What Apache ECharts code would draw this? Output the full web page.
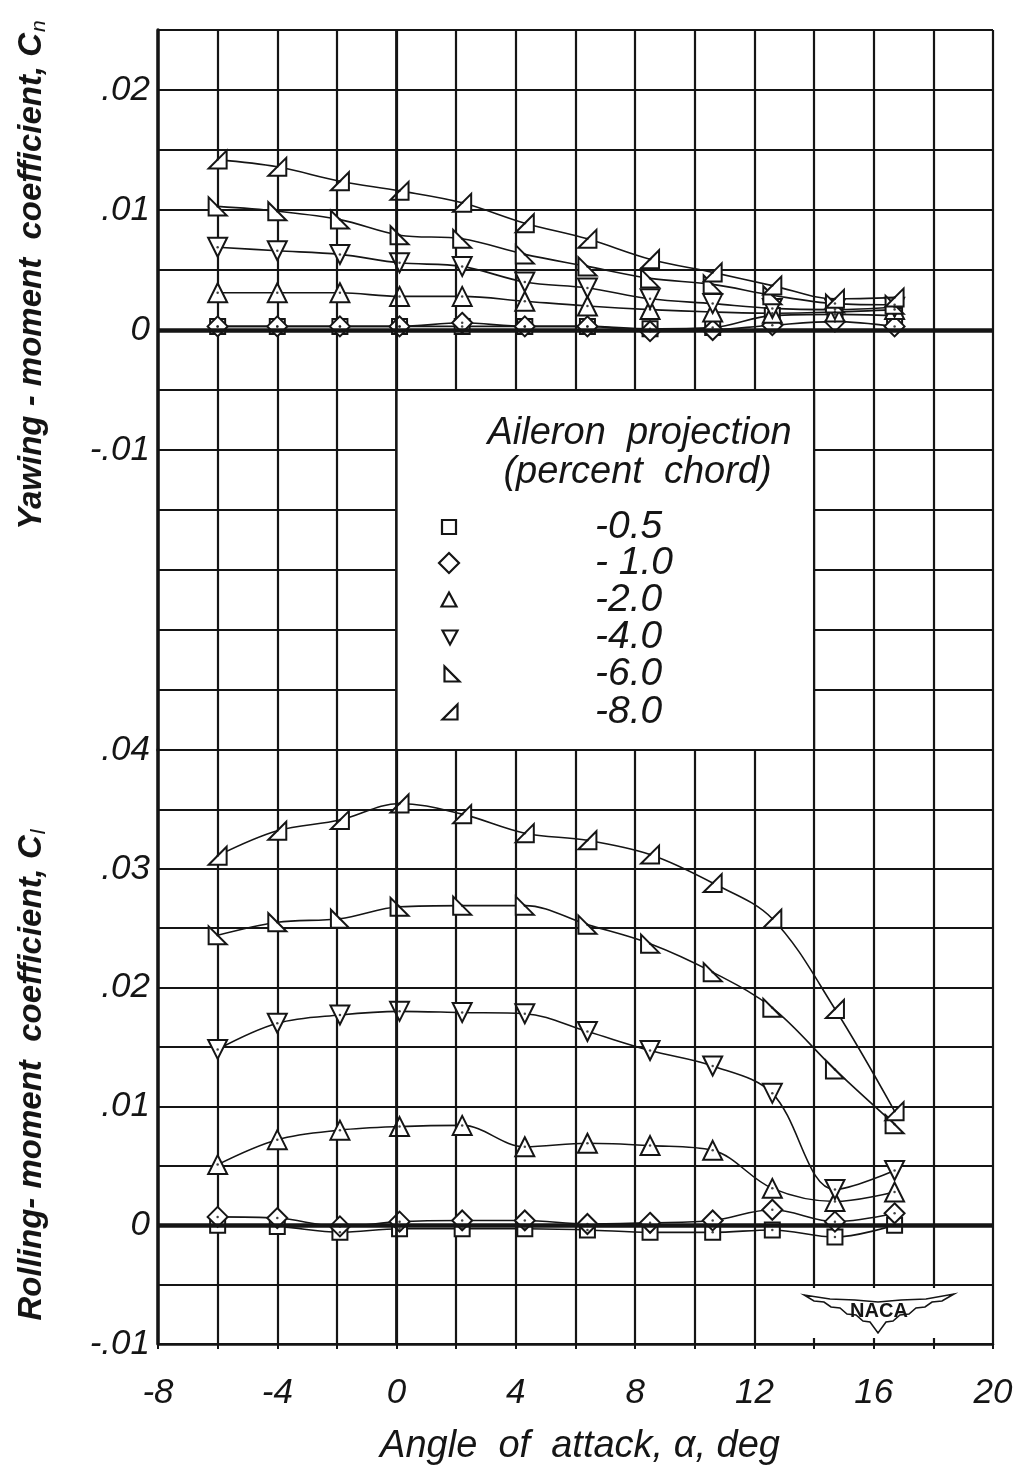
<!DOCTYPE html>
<html>
<head>
<meta charset="utf-8">
<script src="https://cdn.jsdelivr.net/npm/echarts/dist/echarts.min.js"></script>
<style>
html,body{margin:0;padding:0;background:#ffffff;}
#c{width:1024px;height:1478px;}
</style>
</head>
<body>
<div id="c"></div>
<script>
// ---------------- data ----------------
const alpha = [-6, -4, -1.9, 0.1, 2.2, 4.3, 6.4, 8.5, 10.6, 12.6, 14.7, 16.7];
const seriesNames = ['-0.5', '-1.0', '-2.0', '-4.0', '-6.0', '-8.0'];
const legendLabels = ['-0.5', '- 1.0', '-2.0', '-4.0', '-6.0', '-8.0'];

// Yawing-moment coefficient, Cn
const cn_m05 = [0.0003, 0.0003, 0.0003, 0.0003, 0.0003, 0.0003, 0.0003, 0.0001, 0.0002, 0.0012, 0.0013, 0.0012];
const cn_m10 = [0.0003, 0.0003, 0.0003, 0.0003, 0.0006, 0.0003, 0.0003, -0.0001, 0.0000, 0.0004, 0.0007, 0.0003];
const cn_m20 = [0.0031, 0.0031, 0.0031, 0.0028, 0.0028, 0.0024, 0.0020, 0.0017, 0.0015, 0.0014, 0.0015, 0.0017];
const cn_m40 = [0.0069, 0.0066, 0.0063, 0.0056, 0.0053, 0.0040, 0.0035, 0.0026, 0.0022, 0.0018, 0.0017, 0.0019];
const cn_m60 = [0.0103, 0.0099, 0.0092, 0.0079, 0.0076, 0.0063, 0.0053, 0.0043, 0.0038, 0.0029, 0.0022, 0.0021];
const cn_m80 = [0.0142, 0.0136, 0.0124, 0.0116, 0.0106, 0.0089, 0.0076, 0.0059, 0.0048, 0.0037, 0.0026, 0.0027];

// Rolling-moment coefficient, Cl
const cl_m05 = [0.0000, -0.0001, -0.0006, -0.0003, -0.0003, -0.0003, -0.0004, -0.0006, -0.0006, -0.0004, -0.0010, 0.0000];
const cl_m10 = [0.0007, 0.0006, -0.0001, 0.0003, 0.0004, 0.0004, 0.0001, 0.0002, 0.0004, 0.0013, 0.0003, 0.0010];
const cl_m20 = [0.0051, 0.0072, 0.0080, 0.0083, 0.0084, 0.0066, 0.0069, 0.0067, 0.0063, 0.0031, 0.0020, 0.0028];
const cl_m40 = [0.0148, 0.0170, 0.0177, 0.0180, 0.0179, 0.0178, 0.0163, 0.0147, 0.0134, 0.0111, 0.0030, 0.0046];
const cl_m60 = [0.0244, 0.0255, 0.0258, 0.0268, 0.0269, 0.0269, 0.0253, 0.0237, 0.0213, 0.0183, 0.0131, 0.0085];
const cl_m80 = [0.0311, 0.0332, 0.0341, 0.0355, 0.0346, 0.0330, 0.0324, 0.0312, 0.0288, 0.0258, 0.0182, 0.0096];

// tick labels
const xTickValues = [-8, -4, 0, 4, 8, 12, 16, 20];
const xTickLabels = ['-8', '-4', '0', '4', '8', '12', '16', '20'];
const cnTickValues = [0.02, 0.01, 0, -0.01];
const cnTickLabels = ['.02', '.01', '0', '-.01'];
const clTickValues = [0.04, 0.03, 0.02, 0.01, 0, -0.01];
const clTickLabels = ['.04', '.03', '.02', '.01', '0', '-.01'];

const xTitle = 'Angle  of  attack, \u03b1, deg';
const cnTitle = 'Yawing - moment  coefficient, C{s|n}';
const clTitle = 'Rolling- moment  coefficient, C{s|l}';
const legendTitle1 = 'Aileron  projection';
const legendTitle2 = '(percent  chord)';

// ---------------- styling ----------------
const INK = '#151515';
const FONT = '"Liberation Sans", Arial, sans-serif';
const symbols = ['rect', 'diamond', 'triangle', 'triangle', 'path://M0,0L0,10L10,10Z', 'path://M10,0L10,10L0,10Z'];
const symbolRot = [0, 0, 0, 180, 0, 0];
const symbolSizes = [15, 20, 19, 19, 18, 18];

function pick(values, labels) {
  return function (v) {
    const k = Math.round(v * 10000);
    const i = values.findIndex(t => Math.round(t * 10000) === k);
    return i >= 0 ? labels[i] : '';
  };
}

const chart = echarts.init(document.getElementById('c'), null, { renderer: 'canvas', width: 1024, height: 1478 });

const splitStyle = { show: true, lineStyle: { color: INK, width: 2.2 } };
const labelStyle = { fontSize: 35, fontStyle: 'italic', fontFamily: FONT, color: INK };

const xAxes = [
  { gridIndex: 0, type: 'value', min: -8, max: 20, interval: 2,
    axisLine: { show: false, onZero: false }, axisTick: { show: false }, axisLabel: { show: false },
    splitLine: splitStyle },
  { gridIndex: 1, type: 'value', min: -8, max: 20, interval: 2,
    axisLine: { show: true, onZero: false, lineStyle: { color: INK, width: 2.5 } },
    axisTick: { show: true, length: 5, lineStyle: { color: INK, width: 2 } },
    axisLabel: Object.assign({ show: true, margin: 32, showMinLabel: true, showMaxLabel: true,
      formatter: pick(xTickValues, xTickLabels) }, labelStyle),
    splitLine: splitStyle }
];
const yAxes = [
  { gridIndex: 0, type: 'value', min: -0.035, max: 0.025, interval: 0.005,
    axisLine: { show: true, onZero: false, lineStyle: { color: INK, width: 3.5 } }, axisTick: { show: false },
    axisLabel: Object.assign({ margin: 8, showMinLabel: true, showMaxLabel: true, formatter: pick(cnTickValues, cnTickLabels) }, labelStyle),
    splitLine: splitStyle },
  { gridIndex: 1, type: 'value', min: -0.01, max: 0.04, interval: 0.005,
    axisLine: { show: true, onZero: false, lineStyle: { color: INK, width: 3.5 } }, axisTick: { show: false },
    axisLabel: Object.assign({ margin: 8, showMinLabel: true, showMaxLabel: true, formatter: pick(clTickValues, clTickLabels) }, labelStyle),
    splitLine: splitStyle }
];

const panels = [
  [cn_m05, cn_m10, cn_m20, cn_m40, cn_m60, cn_m80],
  [cl_m05, cl_m10, cl_m20, cl_m40, cl_m60, cl_m80]
];

const series = [];
panels.forEach((sets, p) => {
  sets.forEach((arr, k) => {
    const pts = alpha.map((a, i) => [a, arr[i]]);
    const line = {
      type: 'line', name: seriesNames[k], xAxisIndex: p, yAxisIndex: p, data: pts,
      smooth: 0.35, showSymbol: false, silent: true, animation: false, z: 3,
      lineStyle: { color: INK, width: 1.6 }
    };
    if (k === 0) {
      line.markLine = {
        silent: true, symbol: 'none', animation: false, label: { show: false },
        lineStyle: { color: INK, type: 'solid', width: 4.5 },
        data: [{ yAxis: 0, lineStyle: { width: 4.5 } }, { xAxis: 0, lineStyle: { width: 2.8 } }]
      };
    }
    series.push(line);
    series.push({
      type: 'scatter', name: seriesNames[k], xAxisIndex: p, yAxisIndex: p, data: pts,
      symbol: symbols[k], symbolSize: symbolSizes[k], symbolRotate: symbolRot[k],
      silent: true, animation: false, z: 4,
      itemStyle: { color: '#ffffff', borderColor: INK, borderWidth: 2, opacity: 1 }
    });
  });
  const dots = [];
  sets.forEach(arr => alpha.forEach((a, i) => dots.push([a, arr[i]])));
  series.push({
    type: 'scatter', xAxisIndex: p, yAxisIndex: p, data: dots, symbol: 'circle', symbolSize: 2.5,
    silent: true, animation: false, z: 5, itemStyle: { color: INK }
  });
});

chart.setOption({
  animation: false,
  backgroundColor: '#ffffff',
  grid: [
    { left: 158, top: 30, width: 835, height: 720, containLabel: false },
    { left: 158, top: 750, width: 835, height: 594, containLabel: false }
  ],
  xAxis: xAxes,
  yAxis: yAxes,
  series: series
});

// ---------------- legend box, titles, logo ----------------
const tl = chart.convertToPixel({ gridIndex: 0 }, [0, -0.005]);
const br = chart.convertToPixel({ gridIndex: 0 }, [14, -0.035]);
const lx = tl[0], ly = tl[1], lw = br[0] - tl[0], lh = br[1] - tl[1];

function legendSymbol(k, cx, cy) {
  const st = { fill: '#fff', stroke: INK, lineWidth: 2.2 };
  const h = 7.5;
  if (k === 0) return { type: 'rect', shape: { x: cx - 7, y: cy - 7, width: 14, height: 14 }, style: st, z: 21 };
  if (k === 1) return { type: 'polygon', shape: { points: [[cx, cy - 10], [cx + 10, cy], [cx, cy + 10], [cx - 10, cy]] }, style: st, z: 21 };
  if (k === 2) return { type: 'polygon', shape: { points: [[cx, cy - h], [cx + h, cy + h - 1], [cx - h, cy + h - 1]] }, style: st, z: 21 };
  if (k === 3) return { type: 'polygon', shape: { points: [[cx - h, cy - h + 1], [cx + h, cy - h + 1], [cx, cy + h]] }, style: st, z: 21 };
  if (k === 4) return { type: 'polygon', shape: { points: [[cx - h, cy - h], [cx - h, cy + h], [cx + h, cy + h]] }, style: st, z: 21 };
  return { type: 'polygon', shape: { points: [[cx + h, cy - h], [cx + h, cy + h], [cx - h, cy + h]] }, style: st, z: 21 };
}

const legendRowsY = [527, 563, 600, 637, 674, 712];
const legendSymX = [449, 449, 449, 450, 452, 450];
const graphics = [];
graphics.push({ type: 'rect', shape: { x: lx, y: ly, width: lw, height: lh }, style: { fill: '#fff', stroke: INK, lineWidth: 2.2 }, z: 20 });
graphics.push({ type: 'text', x: lx + 243, y: ly + 43, z: 21,
  style: { text: legendTitle1, font: 'italic 38px ' + FONT, fill: INK, align: 'center', verticalAlign: 'middle' } });
graphics.push({ type: 'text', x: lx + 241, y: ly + 82, z: 21,
  style: { text: legendTitle2, font: 'italic 38px ' + FONT, fill: INK, align: 'center', verticalAlign: 'middle' } });
seriesNames.forEach((nm, k) => {
  graphics.push(legendSymbol(k, legendSymX[k], legendRowsY[k]));
  graphics.push({ type: 'text', x: 595, y: legendRowsY[k], z: 21,
    style: { text: legendLabels[k], font: 'italic 39px ' + FONT, fill: INK, align: 'left', verticalAlign: 'middle' } });
});

// axis titles
graphics.push({ type: 'text', x: 32, y: 275, rotation: Math.PI / 2, z: 21,
  style: { text: cnTitle, font: 'italic bold 33px ' + FONT, fill: INK, align: 'center', verticalAlign: 'middle',
    rich: { s: { font: 'italic 21px ' + FONT, fill: INK, padding: [15, 0, 0, 1] } } } });
graphics.push({ type: 'text', x: 32, y: 1075, rotation: Math.PI / 2, z: 21,
  style: { text: clTitle, font: 'italic bold 33px ' + FONT, fill: INK, align: 'center', verticalAlign: 'middle',
    rich: { s: { font: 'italic 21px ' + FONT, fill: INK, padding: [15, 0, 0, 1] } } } });
graphics.push({ type: 'text', x: 580, y: 1446, z: 21,
  style: { text: xTitle, font: 'italic 38px ' + FONT, fill: INK, align: 'center', verticalAlign: 'middle' } });

// NACA wings logo
graphics.push({ type: 'rect', shape: { x: 790, y: 1288, width: 175, height: 50 }, style: { fill: '#fff' }, z: 20 });
const wing = [[804,1295],[830,1299],[855,1300],[878,1302],[901,1300],[926,1299],[954,1294],
  [942,1301],[932,1302],[925,1307],[916,1308],[909,1314],[900,1315],[893,1321],[886,1322],[878,1333],
  [870,1322],[863,1321],[856,1315],[847,1314],[840,1308],[831,1307],[824,1302],[814,1301]];
graphics.push({ type: 'polygon', shape: { points: wing }, style: { fill: '#fff', stroke: INK, lineWidth: 1.6 }, z: 21 });
graphics.push({ type: 'text', x: 879, y: 1311, z: 22,
  style: { text: 'NACA', font: 'bold 20px ' + FONT, fill: INK, align: 'center', verticalAlign: 'middle' } });

chart.setOption({ graphic: graphics });
</script>
</body>
</html>
